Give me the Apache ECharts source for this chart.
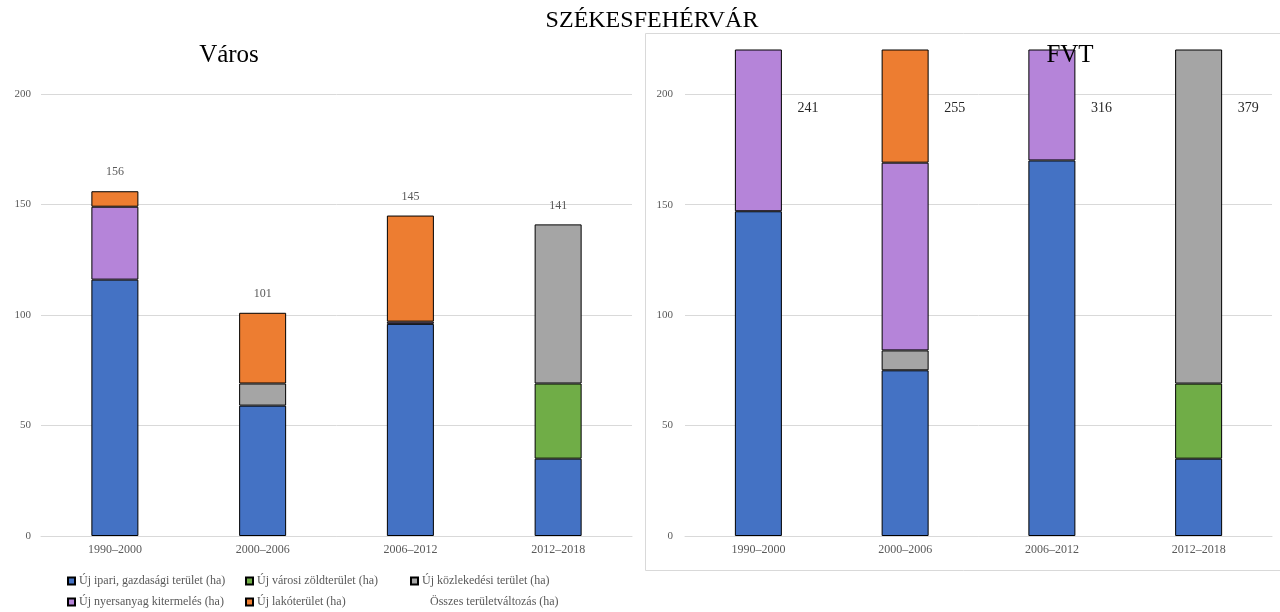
<!DOCTYPE html>
<html>
<head>
<meta charset="utf-8">
<script src="https://cdn.jsdelivr.net/npm/echarts@6/dist/echarts.min.js"></script>
<style>
  html, body { margin: 0; padding: 0; background: #fff; }
  #chart { width: 1280px; height: 612px; }
</style>
</head>
<body>
<div id="chart"></div>
<script>
// Periods on the category axis
const categories = ['1990–2000', '2000–2006', '2006–2012', '2012–2018'];

// Series names (legend entries)
const nameIpari = 'Új ipari, gazdasági terület (ha)';
const nameZold = 'Új városi zöldterület (ha)';
const nameKozlek = 'Új közlekedési terület (ha)';
const nameNyers = 'Új nyersanyag kitermelés (ha)';
const nameLako = 'Új lakóterület (ha)';
const nameOsszes = 'Összes területváltozás (ha)';

// Város (city) – hectares per period
const varosIpari = [116, 59, 96, 35];
const varosZold = [null, null, null, 34];
const varosKozlek = [null, 10, null, 72];
const varosNyers = [33, null, 1, null];
const varosLako = [7, 32, 48, null];

// FVT (functional urban area) – hectares per period
const fvtIpari = [147, 75, 170, 35];
const fvtZold = [null, null, null, 34];
const fvtKozlek = [null, 9, null, 310];
const fvtNyers = [84, 85, 90, null];
const fvtLako = [10, 86, 56, null];

// Value-axis tick labels
const yTicks = [0, 50, 100, 150, 200];

const FONT = '"Liberation Serif", "Times New Roman", serif';
const colors = {
  ipari: '#4472C4',
  zold: '#70AD47',
  kozlek: '#A5A5A5',
  nyers: '#B584D9',
  lako: '#ED7D31'
};

function totals(parts) {
  return categories.map((_, i) => parts.reduce((s, arr) => s + (arr[i] || 0), 0));
}
const varosTotal = totals([varosIpari, varosZold, varosKozlek, varosNyers, varosLako]);
const fvtTotal = totals([fvtIpari, fvtZold, fvtKozlek, fvtNyers, fvtLako]);

const RIGHT_MAX = 220;

function stackSeries(idx, stackName, data) {
  const defs = [
    [nameIpari, data[0], colors.ipari],
    [nameZold, data[1], colors.zold],
    [nameKozlek, data[2], colors.kozlek],
    [nameNyers, data[3], colors.nyers],
    [nameLako, data[4], colors.lako]
  ];
  return defs.map(([name, vals, color]) => ({
    name: name,
    type: 'bar',
    stack: stackName,
    xAxisIndex: idx,
    yAxisIndex: idx,
    barWidth: 47,
    data: vals,
    itemStyle: { color: color, borderColor: '#000', borderWidth: 1 },
    emphasis: { disabled: true }
  }));
}

// Total labels: above the bar (city), beside the clipped bar (FVT)
function totalSeries(idx, data, beside) {
  return {
    name: nameOsszes,
    type: 'custom',
    xAxisIndex: idx,
    yAxisIndex: idx,
    itemStyle: { color: 'rgba(0,0,0,0)' },
    data: data.map((v, i) => [i, v]),
    z: 10,
    renderItem: function (params, api) {
      const v = api.value(1);
      if (!beside) {
        const p = api.coord([api.value(0), v]);
        return {
          type: 'text',
          x: p[0], y: p[1] - 19,
          style: {
            text: String(v), font: '12px ' + FONT, fill: '#595959',
            align: 'center', verticalAlign: 'middle'
          }
        };
      }
      const p = api.coord([api.value(0), Math.min(v, RIGHT_MAX)]);
      return {
        type: 'text',
        x: p[0] + 39, y: p[1] + 58,
        style: {
          text: String(v), font: '14px ' + FONT, fill: '#262626',
          align: 'left', verticalAlign: 'middle'
        }
      };
    }
  };
}

const axisLabelStyle = { color: '#595959', fontFamily: FONT };

const option = {
  animation: false,
  textStyle: { fontFamily: FONT },
  grid: [
    { left: 41, width: 591, top: 94, bottom: 76 },
    { left: 685, width: 587, top: 50, bottom: 76 }
  ],
  xAxis: [0, 1].map(i => ({
    type: 'category',
    gridIndex: i,
    data: categories,
    axisLine: { lineStyle: { color: '#d9d9d9' } },
    axisTick: { show: false },
    axisLabel: Object.assign({ fontSize: 12, margin: 8 }, axisLabelStyle)
  })),
  yAxis: [
    {
      type: 'value', gridIndex: 0, min: 0, max: 200, interval: 50,
      axisLine: { show: false }, axisTick: { show: false },
      axisLabel: Object.assign({ fontSize: 11, margin: 10 }, axisLabelStyle),
      splitLine: { lineStyle: { color: '#d9d9d9' } }
    },
    {
      type: 'value', gridIndex: 1, min: 0, max: RIGHT_MAX,
      axisLine: { show: false },
      axisTick: { show: false, customValues: yTicks },
      axisLabel: Object.assign({ fontSize: 11, margin: 12, customValues: yTicks }, axisLabelStyle),
      splitLine: { lineStyle: { color: '#d9d9d9' } }
    }
  ],
  legend: [
    { left: 67, top: 574, data: [nameIpari, nameNyers] },
    { left: 245, top: 574, data: [nameZold, nameLako] },
    { left: 410, top: 574, data: [nameKozlek] },
    { left: 419, top: 595, data: [nameOsszes] }
  ].map(l => Object.assign({
    orient: 'vertical',
    padding: 0,
    height: 40,
    itemWidth: 7, itemHeight: 7, itemGap: 7,
    icon: 'rect',
    selectedMode: false,
    textStyle: { fontSize: 12, color: '#595959', fontFamily: FONT, lineHeight: 14, padding: [0, 0, 0, -1] }
  }, l)),
  graphic: [
    {
      type: 'rect', z: -1,
      shape: { x: 645.5, y: 33.5, width: 640, height: 537 },
      style: { fill: 'none', stroke: '#d9d9d9', lineWidth: 1 }
    },
    {
      type: 'text', x: 652, y: 21, z: 100,
      style: { text: 'SZÉKESFEHÉRVÁR', font: '24px ' + FONT, fill: '#000', align: 'center', verticalAlign: 'middle' }
    },
    {
      type: 'text', x: 229, y: 55, z: 100,
      style: { text: 'Város', font: '25px ' + FONT, fill: '#000', align: 'center', verticalAlign: 'middle' }
    },
    {
      type: 'text', x: 1070, y: 55, z: 100,
      style: { text: 'FVT', font: '25px ' + FONT, fill: '#000', align: 'center', verticalAlign: 'middle' }
    }
  ],
  series: [].concat(
    stackSeries(0, 'varos', [varosIpari, varosZold, varosKozlek, varosNyers, varosLako]),
    [totalSeries(0, varosTotal, false)],
    stackSeries(1, 'fvt', [fvtIpari, fvtZold, fvtKozlek, fvtNyers, fvtLako]),
    [totalSeries(1, fvtTotal, true)]
  )
};

const chart = echarts.init(document.getElementById('chart'), null, { renderer: 'canvas' });
chart.setOption(option);
</script>
</body>
</html>
